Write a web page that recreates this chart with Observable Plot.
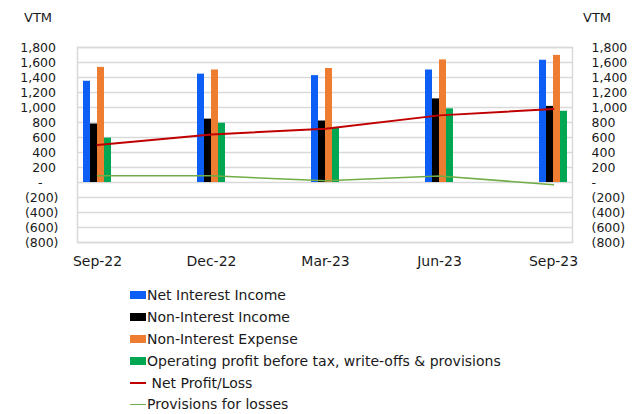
<!DOCTYPE html>
<html>
<head>
<meta charset="utf-8">
<script src="https://cdn.jsdelivr.net/npm/d3@7"></script>
<script src="https://cdn.jsdelivr.net/npm/@observablehq/plot@0.6"></script>
<style>
  html, body { margin: 0; padding: 0; background: #fff; }
  body { width: 633px; height: 414px; overflow: hidden; position: relative; font-family: "DejaVu Sans", sans-serif; color: #1a1a1a; }
  .unit { position: absolute; top: 10px; font-size: 13px; }
  #legend { position: absolute; left: 130px; top: 284.6px; font-size: 14px; }
  .item { height: 21.8px; display: flex; align-items: center; white-space: pre; }
  .sw { width: 16px; height: 8px; margin-right: 1px; }
  .ln { width: 16px; margin-right: 1px; }
</style>
</head>
<body>
<div id="chart"></div>
<div class="unit" style="left:24px">VTM</div>
<div class="unit" style="left:583px">VTM</div>
<div id="legend"></div>
<script>
const dates = ["Sep-22", "Dec-22", "Mar-23", "Jun-23", "Sep-23"];
const netInterestIncome = [1350, 1445, 1425, 1500, 1630];
const nonInterestIncome = [780, 845, 820, 1115, 1015];
const nonInterestExpense = [1535, 1500, 1520, 1635, 1695];
const operatingProfit = [592, 790, 725, 982, 950];
const netProfit = [500, 640, 718, 895, 980];
const provisions = [89, 89, 22, 88, -30];
const yTicks = [-800, -600, -400, -200, 0, 200, 400, 600, 800, 1000, 1200, 1400, 1600, 1800];

const barSeries = [
  {name: "Net Interest Income", values: netInterestIncome, color: "#0d5ef5"},
  {name: "Non-Interest Income", values: nonInterestIncome, color: "#000000"},
  {name: "Non-Interest Expense", values: nonInterestExpense, color: "#ef7d31"},
  {name: "Operating profit before tax, write-offs & provisions", values: operatingProfit, color: "#00a651"}
];
const lineSeries = [
  {name: "Net Profit/Loss", values: netProfit, color: "#c00000", width: 2},
  {name: "Provisions for losses", values: provisions, color: "#70ad47", width: 1.5}
];

const tidy = s => dates.map((d, i) => ({date: d, value: s.values[i]}));
const num = d3.format(",");
const fmtLeft = v => v === 0 ? "-\u2007\u2007" : v < 0 ? `(${num(-v)})` : num(v) + "\u2009";
const fmtRight = v => v === 0 ? "-" : v < 0 ? `(${num(-v)})` : num(v);

const slot = 7; // bar width within the group, px
const barMarks = barSeries.map((s, k) =>
  Plot.barY(tidy(s), {x: "date", y: "value", fill: s.color,
    insetLeft: k * slot, insetRight: (barSeries.length - 1 - k) * slot})
);
const lineMarks = [...lineSeries].reverse().map(s =>
  Plot.lineY(tidy(s), {x: "date", y: "value", stroke: s.color, strokeWidth: s.width})
);

const chart = Plot.plot({
  width: 633, height: 282,
  marginLeft: 77, marginRight: 61, marginTop: 47, marginBottom: 40,
  style: {fontFamily: "'DejaVu Sans', sans-serif", fontSize: "12.5px", color: "#1a1a1a", background: "#fff"},
  x: {type: "band", domain: dates, paddingInner: 0.755, paddingOuter: 0.044, label: null},
  y: {domain: [-800, 1800], label: null},
  marks: [
    Plot.gridY(yTicks, {stroke: "#d9d9d9", strokeOpacity: 1, strokeWidth: 1.5}),
    Plot.frame({stroke: "#d9d9d9", strokeWidth: 1.5}),
    ...barMarks,
    ...lineMarks,
    Plot.axisX({tickSize: 0, tickPadding: 14, fontSize: 14, label: null}),
    Plot.axisY(yTicks, {anchor: "left", tickSize: 0, tickPadding: 19, tickFormat: fmtLeft, label: null}),
    Plot.axisY(yTicks, {anchor: "right", tickSize: 0, tickPadding: 19, tickFormat: fmtRight, textAnchor: "start", label: null})
  ]
});
document.getElementById("chart").appendChild(chart);

const legend = document.getElementById("legend");
for (const s of barSeries) {
  const row = document.createElement("div");
  row.className = "item";
  row.innerHTML = `<span class="sw" style="background:${s.color}"></span><span></span>`;
  row.lastChild.textContent = s.name;
  legend.appendChild(row);
}
lineSeries.forEach((s, i) => {
  const row = document.createElement("div");
  row.className = "item";
  row.innerHTML = `<span class="ln" style="border-top:${s.width}px solid ${s.color}"></span><span></span>`;
  row.lastChild.textContent = (i === 0 ? " " : "") + s.name;
  legend.appendChild(row);
});
</script>
</body>
</html>
